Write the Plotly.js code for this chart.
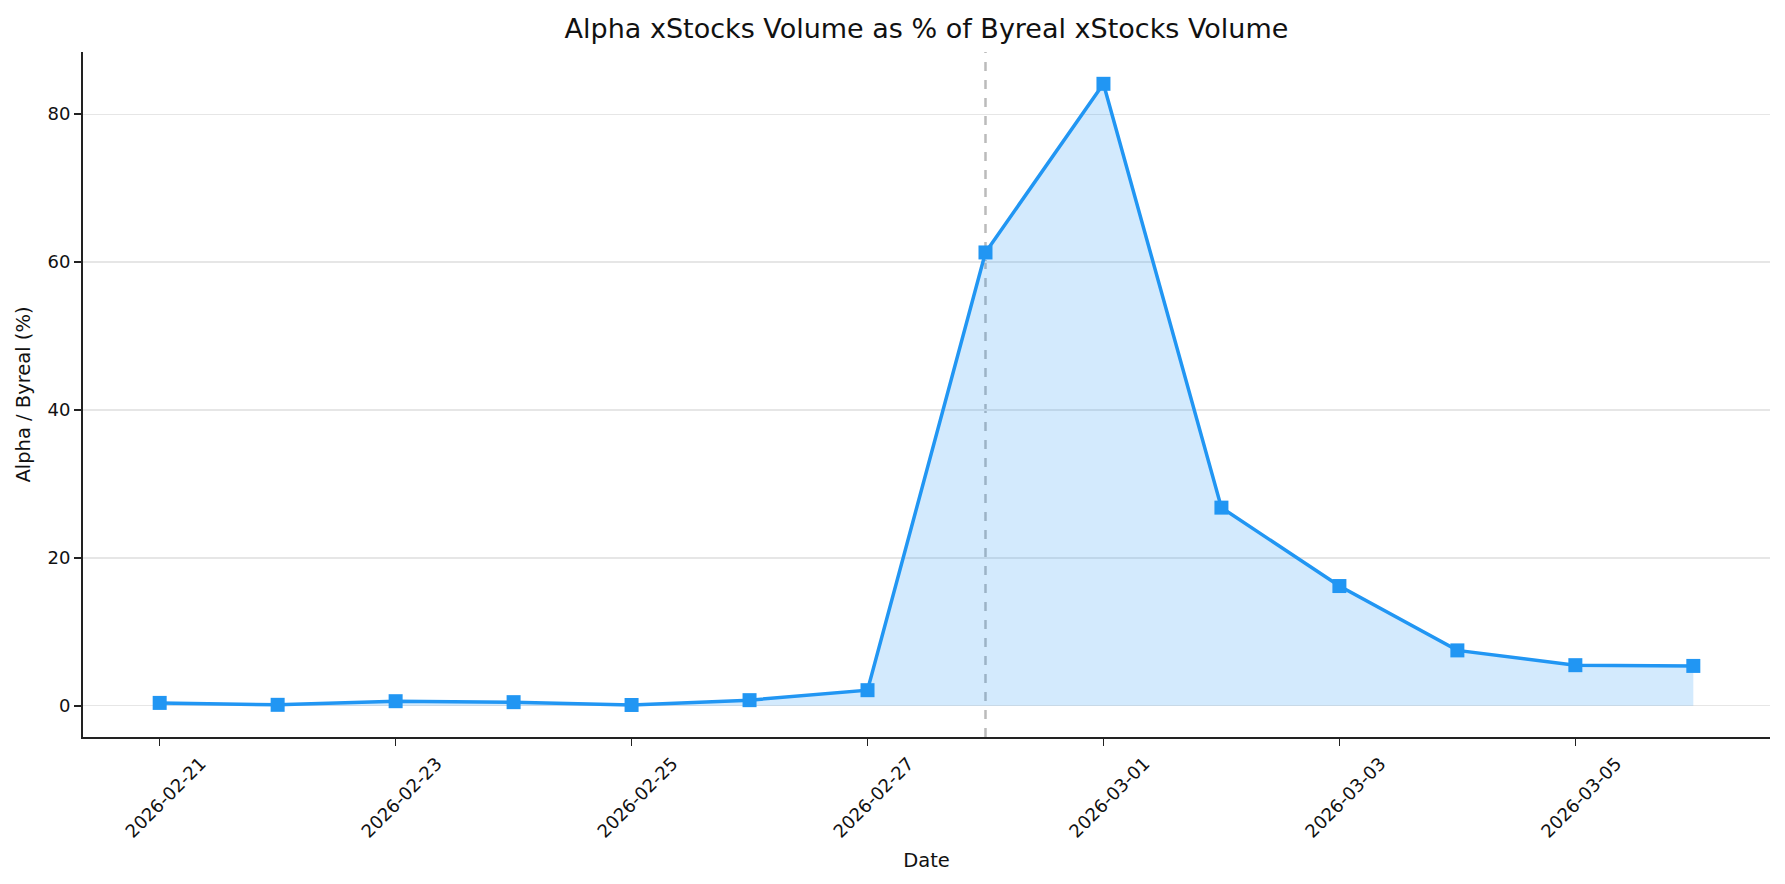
<!DOCTYPE html>
<html>
<head>
<meta charset="utf-8">
<script src="https://cdn.plot.ly/plotly-3.0.1.min.js"></script>
<style>html,body{margin:0;padding:0;background:#fff;}#chart{width:1785px;height:884px;}</style>
</head>
<body>
<div id="chart"></div>
<script>
const dates = ["2026-02-21","2026-02-22","2026-02-23","2026-02-24","2026-02-25","2026-02-26","2026-02-27","2026-02-28","2026-03-01","2026-03-02","2026-03-03","2026-03-04","2026-03-05","2026-03-06"];
const ratioPct = [0.4, 0.14, 0.63, 0.5, 0.12, 0.77, 2.12, 61.3, 84.1, 26.8, 16.2, 7.5, 5.5, 5.4];
const tickDates = ["2026-02-21","2026-02-23","2026-02-25","2026-02-27","2026-03-01","2026-03-03","2026-03-05"];
const eventDate = "2026-02-28";
const yTicks = [0, 20, 40, 60, 80];

const FONT = "'DejaVu Sans', sans-serif";
const blue = "#2196F3";

const fill = {
  x: dates, y: ratioPct, type: "scatter", mode: "lines",
  fill: "tozeroy", fillcolor: "rgba(33,150,243,0.2)",
  line: {width: 0}, hoverinfo: "skip", showlegend: false
};
const line = {
  x: dates, y: ratioPct, type: "scatter", mode: "lines+markers",
  line: {color: blue, width: 3.5},
  marker: {symbol: "square", size: 14, color: blue},
  showlegend: false
};

const dayMs = 86400000;
const x0 = new Date(new Date(dates[0]).getTime() - 0.65 * dayMs).toISOString();
const x1 = new Date(new Date(dates[dates.length-1]).getTime() + 0.65 * dayMs).toISOString();

const layout = {
  width: 1785, height: 884,
  paper_bgcolor: "#fff", plot_bgcolor: "#fff",
  margin: {l: 83, r: 15, t: 52, b: 147},
  font: {family: FONT, color: "#111", size: 18},
  title: {text: "Alpha xStocks Volume as % of Byreal xStocks Volume", xref: "paper", x: 0.5, xanchor: "center", y: 0.968, yanchor: "middle", font: {size: 27, family: FONT, color: "#111"}},
  xaxis: {
    type: "date", range: [x0, x1],
    tickvals: tickDates, ticktext: tickDates, tickangle: -45,
    ticklabelshift: 41,
    showgrid: false, zeroline: false,
    showline: true, linecolor: "#222", linewidth: 2,
    ticks: "outside", ticklen: 7, tickwidth: 1.5, tickcolor: "#222",
    tickfont: {size: 18, family: FONT, color: "#111"},
    title: {text: "Date", font: {size: 19.5, family: FONT, color: "#111"}, standoff: 13}
  },
  yaxis: {
    range: [-4.21, 88.4],
    tickvals: yTicks, ticktext: yTicks.map(String),
    showgrid: true, gridcolor: "#e6e6e6", gridwidth: 1.2,
    zeroline: false,
    showline: true, linecolor: "#222", linewidth: 2,
    ticks: "outside", ticklen: 7, tickwidth: 1.5, tickcolor: "#222",
    tickfont: {size: 18, family: FONT, color: "#111"},
    title: {text: "Alpha / Byreal (%)", font: {size: 19.5, family: FONT, color: "#111"}, standoff: 12}
  },
  shapes: [{
    type: "line", xref: "x", yref: "paper",
    x0: eventDate, x1: eventDate, y0: 0, y1: 1,
    line: {color: "#bbbbbb", width: 2.5, dash: "dash"},
    layer: "below"
  }]
};

Plotly.newPlot("chart", [fill, line], layout, {displayModeBar: false, staticPlot: true});
</script>
</body>
</html>
